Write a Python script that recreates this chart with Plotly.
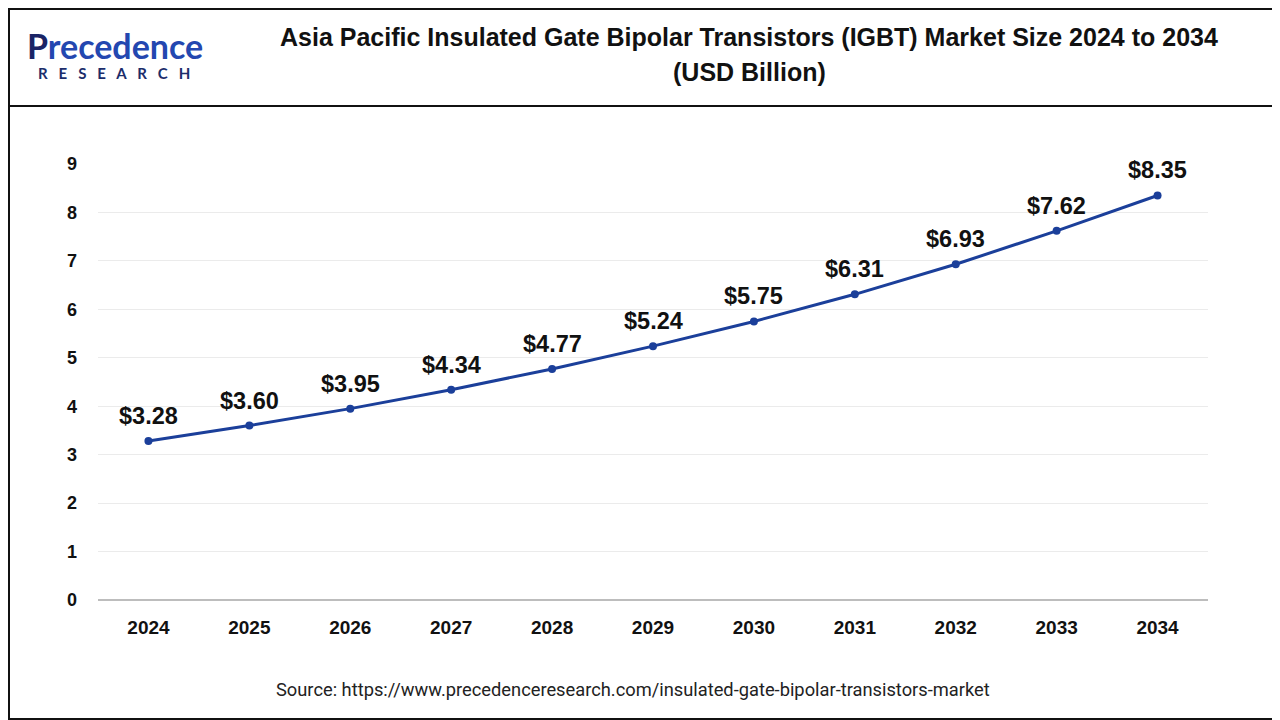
import plotly.graph_objects as go

years = [2024, 2025, 2026, 2027, 2028, 2029, 2030, 2031, 2032, 2033, 2034]
market_size = [3.28, 3.60, 3.95, 4.34, 4.77, 5.24, 5.75, 6.31, 6.93, 7.62, 8.35]
y_ticks = [0, 1, 2, 3, 4, 5, 6, 7, 8, 9]

title_lines = [
    "Asia Pacific Insulated Gate Bipolar Transistors (IGBT) Market Size 2024 to 2034",
    "(USD Billion)",
]
source = "Source: https://www.precedenceresearch.com/insulated-gate-bipolar-transistors-market"

line_color = "#1b3f9a"
font_main = "Liberation Sans, Arial, sans-serif"

# the page puts the figure 8px in from the window corner
W, H = 1272, 712
OFF = 8
L, T, R, B = 90, 156, 72, 120

fig = go.Figure()

fig.add_trace(go.Scatter(
    x=years,
    y=market_size,
    mode="lines+markers",
    line=dict(color=line_color, width=3),
    marker=dict(color=line_color, size=8),
    hoverinfo="x+y",
    showlegend=False,
))

# value labels above each point
for yr, val in zip(years, market_size):
    fig.add_annotation(
        x=yr, y=val, text=f"<b>${val:.2f}</b>",
        showarrow=False, yshift=25,
        font=dict(family=font_main, size=23.5, color="#111111"),
    )

fig.update_layout(
    width=W, height=H,
    paper_bgcolor="white", plot_bgcolor="white",
    margin=dict(l=L, r=R, t=T, b=B),
    font=dict(family=font_main, color="#111111"),
    xaxis=dict(
        range=[years[0] - 0.5, years[-1] + 0.5], tickvals=years,
        showgrid=False, showline=False, zeroline=False,
        ticks="", ticklabelstandoff=14,
        tickfont=dict(family=font_main, size=19, color="#111111", weight="bold"),
    ),
    yaxis=dict(
        range=[0, 9], tickvals=y_ticks,
        showgrid=True, gridcolor="#ebebeb", gridwidth=1,
        zeroline=True, zerolinecolor="#bdbdbd", zerolinewidth=2,
        showline=False, ticks="", ticklabelstandoff=20,
        tickfont=dict(family=font_main, size=18, color="#111111", weight="bold"),
    ),
)

pw, ph = W - L - R, H - T - B


def px(x):
    # image pixel -> paper x
    return (x - OFF - L) / pw


def py(y):
    # image pixel -> paper y
    return (H - B - (y - OFF)) / ph


def text_at(x, y, text, size, family=font_main, color="#111111"):
    fig.add_annotation(
        x=px(x), y=py(y), xref="paper", yref="paper", text=text,
        showarrow=False, xanchor="center", yanchor="middle",
        font=dict(family=family, size=size, color=color),
    )


# title
text_at(749, 37, f"<b>{title_lines[0]}</b>", 25)
text_at(749, 72, f"<b>{title_lines[1]}</b>", 25)

# logo
text_at(115, 45,
        "<b><span style='color:#1a2466'>P</span>"
        "<span style='color:#2347b0'>recedence</span></b>",
        34, family="Lato, sans-serif")
text_at(114, 73, "<b>R   E   S   E   A   R   C   H</b>", 15,
        family="Lato, sans-serif", color="#1c2d6b")

# source
text_at(633, 689, source, 18.3, family="Roboto, sans-serif", color="#222222")

# header separator and outer border
fig.add_shape(type="line", xref="paper", yref="paper",
              x0=px(0), x1=px(1280), y0=py(106), y1=py(106),
              line=dict(color="#111111", width=2))
fig.add_shape(type="rect", xref="paper", yref="paper",
              x0=px(9), x1=px(1279), y0=py(9), y1=py(719),
              line=dict(color="#111111", width=2))

fig.write_html("out.html")
